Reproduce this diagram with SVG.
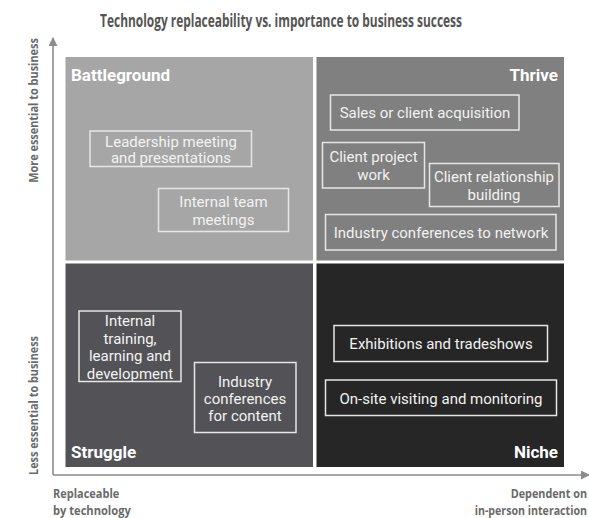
<svg xmlns="http://www.w3.org/2000/svg" width="589" height="518" viewBox="0 0 589 518">
  <style>
    .title { font-family: "Open Sans", "Liberation Sans", sans-serif; font-weight: 700; font-size: 17px; fill: #555555; }
    .axis { font-family: "Open Sans", "Liberation Sans", sans-serif; font-weight: 700; font-size: 13px; fill: #6a6a6a; }
    .quad { font-family: "Roboto", "Liberation Sans", sans-serif; font-weight: 700; font-size: 17px; fill: #ffffff; }
    .box { fill: none; stroke: #e6e6e6; stroke-width: 1.5; }
    .lbl { font-family: "Roboto", "Liberation Sans", sans-serif; font-size: 15px; fill: #f2f2f2; text-anchor: middle; }
    .axisline { stroke: #8c8c8c; stroke-width: 1.6; fill: none; }
  </style>
  <defs>
    <marker id="arrow" viewBox="0 0 10 10" refX="9" refY="5" markerWidth="9" markerHeight="9" markerUnits="userSpaceOnUse" orient="auto">
      <path d="M0,0 L10,5 L0,10 Z" fill="#8c8c8c"/>
    </marker>
  </defs>
  <rect width="589" height="518" fill="#ffffff"/>

  <!-- title, set in a narrowed bold face -->
  <text class="title" transform="translate(281,26.5) scale(0.6,1)" x="0" y="0" text-anchor="middle" textLength="603" lengthAdjust="spacingAndGlyphs">Technology replaceability vs. importance to business success</text>

  <!-- quadrant backgrounds -->
  <rect x="65.5" y="57" width="247.5" height="203.5" fill="#a6a6a6"/>
  <rect x="316.5" y="57" width="247.5" height="203.5" fill="#808080"/>
  <rect x="65.5" y="263.5" width="247.5" height="203.5" fill="#535357"/>
  <rect x="316.5" y="263.5" width="247.5" height="203.5" fill="#262626"/>

  <!-- axes -->
  <g id="axes">
    <line class="axisline" x1="53" y1="475" x2="53" y2="38" marker-end="url(#arrow)"/>
    <line class="axisline" x1="53" y1="475" x2="589" y2="475" marker-end="url(#arrow)"/>
    <text class="axis" transform="translate(38,110.5) rotate(-90) scale(0.72,1)" text-anchor="middle" textLength="201" lengthAdjust="spacingAndGlyphs">More essential to business</text>
    <text class="axis" transform="translate(38,405.5) rotate(-90) scale(0.72,1)" text-anchor="middle" textLength="193" lengthAdjust="spacingAndGlyphs">Less essential to business</text>
    <text class="axis" transform="translate(53,498) scale(0.72,1)" textLength="92" lengthAdjust="spacingAndGlyphs">Replaceable</text>
    <text class="axis" transform="translate(53,515) scale(0.72,1)" textLength="108" lengthAdjust="spacingAndGlyphs">by technology</text>
    <text class="axis" transform="translate(587,498) scale(0.72,1)" text-anchor="end" textLength="106" lengthAdjust="spacingAndGlyphs">Dependent on</text>
    <text class="axis" transform="translate(587,515) scale(0.72,1)" text-anchor="end" textLength="156" lengthAdjust="spacingAndGlyphs">in-person interaction</text>
  </g>

  <!-- quadrant titles -->
  <text class="quad" x="71" y="81">Battleground</text>
  <text class="quad" x="558" y="81" text-anchor="end">Thrive</text>
  <text class="quad" x="71" y="458">Struggle</text>
  <text class="quad" x="558" y="458" text-anchor="end">Niche</text>

  <!-- Battleground -->
  <g id="leadership">
    <rect class="box" x="90" y="131" width="161.5" height="35.5"/>
    <text class="lbl" x="171" y="146.5">Leadership meeting</text>
    <text class="lbl" x="171" y="163">and presentations</text>
  </g>
  <g id="internal-team">
    <rect class="box" x="158.5" y="188.5" width="130" height="43"/>
    <text class="lbl" x="223.5" y="206.5">Internal team</text>
    <text class="lbl" x="223.5" y="224.5">meetings</text>
  </g>

  <!-- Thrive -->
  <g id="sales">
    <rect class="box" x="330.5" y="95" width="188.5" height="35"/>
    <text class="lbl" x="425" y="117.5">Sales or client acquisition</text>
  </g>
  <g id="client-project">
    <rect class="box" x="322.5" y="142.5" width="102" height="45.5"/>
    <text class="lbl" x="373.5" y="161.5">Client project</text>
    <text class="lbl" x="373.5" y="179.5">work</text>
  </g>
  <g id="client-relationship">
    <rect class="box" x="429.5" y="163.5" width="129.5" height="43"/>
    <text class="lbl" x="494" y="181.5">Client relationship</text>
    <text class="lbl" x="494" y="199.5">building</text>
  </g>
  <g id="conf-network">
    <rect class="box" x="325.5" y="214.5" width="230.5" height="35.5"/>
    <text class="lbl" x="441" y="237.5">Industry conferences to network</text>
  </g>

  <!-- Struggle -->
  <g id="training">
    <rect class="box" x="79" y="311" width="102" height="70.5"/>
    <text class="lbl" x="130" y="326">Internal</text>
    <text class="lbl" x="130" y="343.5">training,</text>
    <text class="lbl" x="130" y="361">learning and</text>
    <text class="lbl" x="130" y="378.5">development</text>
  </g>
  <g id="conf-content">
    <rect class="box" x="194.5" y="362.5" width="101.5" height="70"/>
    <text class="lbl" x="245" y="386.5">Industry</text>
    <text class="lbl" x="245" y="404">conferences</text>
    <text class="lbl" x="245" y="421">for content</text>
  </g>

  <!-- Niche -->
  <g id="exhibitions">
    <rect class="box" x="334" y="325.5" width="213.5" height="36"/>
    <text class="lbl" x="441" y="349">Exhibitions and tradeshows</text>
  </g>
  <g id="onsite">
    <rect class="box" x="325.5" y="380" width="231" height="35.5"/>
    <text class="lbl" x="441" y="404">On-site visiting and monitoring</text>
  </g>
</svg>
